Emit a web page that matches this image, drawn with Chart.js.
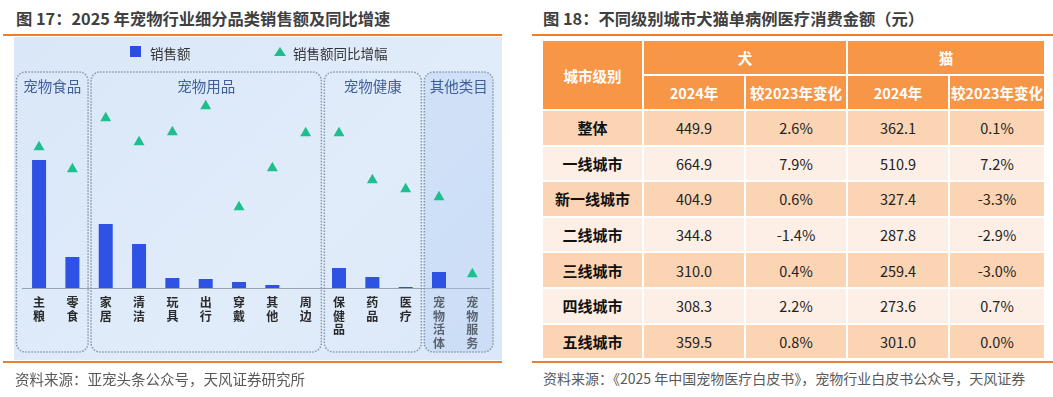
<!DOCTYPE html>
<html>
<head>
<meta charset="utf-8">
<script src="https://cdn.jsdelivr.net/npm/chart.js@4.4.1/dist/chart.umd.min.js"></script>
<style>
  html, body { margin: 0; padding: 0; background: #fff; }
  body { width: 1053px; height: 397px; position: relative; overflow: hidden;
         font-family: "Noto Sans CJK SC", "Noto Sans", sans-serif; }
  .title { position: absolute; top: 6px; font-size: 16.3px; font-weight: bold; color: #404040; white-space: nowrap; }
  .src { position: absolute; top: 368px; font-size: 14.5px; color: #595959; white-space: nowrap; }
  .rule { position: absolute; height: 2px; background: #ED7D31; }
  #plotBox { position: absolute; left: 14px; top: 37px; width: 488px; height: 323px;
             background: linear-gradient(135deg, #d9e7f8 0%, #e1ecfa 60%, #dbe8f9 100%); }
  #wrap { position: absolute; left: 14px; top: 37px; width: 488px; height: 325px; }
  .lg { position: absolute; top: 43px; font-size: 13.5px; color: #333; white-space: nowrap; }
  table { position: absolute; left: 541px; top: 39px; width: 503px; border-collapse: collapse; table-layout: fixed; }
  td { border: 2px solid #fff; text-align: center; padding: 0; font-size: 14.5px; color: #222; }
  .hd td { background: #F79646; color: #fff; font-weight: bold; height: 33px; }
  td.city { font-weight: bold; color: #111; font-size: 15px; }
  tr.odd td { background: #FBD4B4; }
  tr.even td { background: #FDEEE6; }
  tbody tr td { height: 33.6px; }
</style>
</head>
<body>
<div class="title" style="left:16px">图 17：2025 年宠物行业细分品类销售额及同比增速</div>
<div class="rule" style="left:3px; top:34px; width:499px"></div>
<div id="plotBox"></div>
<div id="wrap"><canvas id="c"></canvas></div>
<div style="position:absolute; left:130px; top:46px; width:11px; height:11px; background:#2b4de0"></div>
<div class="lg" style="left:150px">销售额</div>
<div style="position:absolute; left:274px; top:47px; width:0; height:0; border-left:6px solid transparent; border-right:6px solid transparent; border-bottom:9px solid #1dbf8f"></div>
<div class="lg" style="left:293px">销售额同比增幅</div>
<div class="rule" style="left:3px; top:361px; width:499px"></div>
<div class="src" style="left:15px">资料来源：亚宠头条公众号，天风证券研究所</div>

<div class="title" style="left:543px">图 18：不同级别城市犬猫单病例医疗消费金额（元）</div>
<div class="rule" style="left:532px; top:34px; width:521px"></div>
<table id="tbl"></table>
<div class="rule" style="left:532px; top:361px; width:521px"></div>
<div class="src" style="left:543px; font-size:14px">资料来源：《2025 年中国宠物医疗白皮书》，宠物行业白皮书公众号，天风证券</div>

<script>
// left chart data (no axis shown)
const categories = ["主粮","零食","家居","清洁","玩具","出行","穿戴","其他","周边","保健品","药品","医疗","宠物活体","宠物服务"];
const sales = [128, 31, 64, 44, 10, 9, 6, 3, 0, 20, 11, 1, 16, 0];
const growth = [18.2, 13.8, 24.0, 19.2, 21.2, 26.4, 6.2, 14.0, 21.0, 21.0, 11.6, 9.8, 8.2, -7.2];
const groupNames = ["宠物食品","宠物用品","宠物健康","其他类目"];
const groupFirst = [0, 2, 9, 12];
const groupLast = [1, 8, 11, 13];

// right table data
const cityLevels = ["整体","一线城市","新一线城市","二线城市","三线城市","四线城市","五线城市"];
const dog2024 = ["449.9","664.9","404.9","344.8","310.0","308.3","359.5"];
const dogChange = ["2.6%","7.9%","0.6%","-1.4%","0.4%","2.2%","0.8%"];
const cat2024 = ["362.1","510.9","327.4","287.8","259.4","273.6","301.0"];
const catChange = ["0.1%","7.2%","-3.3%","-2.9%","-3.0%","0.7%","0.0%"];

// build table
const tbl = document.getElementById('tbl');
let html = '<colgroup><col style="width:101px"><col style="width:102px"><col style="width:102px"><col style="width:102px"><col style="width:96px"></colgroup>';
html += '<tr class="hd"><td rowspan="2">城市级别</td><td colspan="2">犬</td><td colspan="2">猫</td></tr>';
html += '<tr class="hd"><td>2024年</td><td>较2023年变化</td><td>2024年</td><td>较2023年变化</td></tr>';
cityLevels.forEach((c, i) => {
  html += '<tr class="' + (i % 2 == 0 ? 'odd' : 'even') + '"><td class="city">' + c + '</td><td>' + dog2024[i] +
    '</td><td>' + dogChange[i] + '</td><td>' + cat2024[i] + '</td><td>' + catChange[i] + '</td></tr>';
});
tbl.innerHTML = html;

// dotted group boxes + titles behind the marks
const groupBoxes = {
  id: 'groupBoxes',
  beforeDatasetsDraw(chart) {
    const ctx = chart.ctx;
    const x = chart.scales.x;
    const half = (x.getPixelForValue(1) - x.getPixelForValue(0)) / 2;
    const top = 35, bottom = 315;
    groupNames.forEach((name, g) => {
      let l = x.getPixelForValue(groupFirst[g]) - half + 2;
      let r = x.getPixelForValue(groupLast[g]) + half - 1;
      if (g == 0) l -= 8;
      if (g == groupNames.length - 1) r += 5;
      ctx.save();
      ctx.beginPath();
      ctx.roundRect(l, top, r - l, bottom - top, 9);
      if (g == groupNames.length - 1) {
        ctx.fillStyle = 'rgba(176,204,240,0.35)';
        ctx.fill();
      }
      ctx.setLineDash([1.5, 1.5]);
      ctx.lineWidth = 1.5;
      ctx.strokeStyle = '#8796ab';
      ctx.stroke();
      ctx.setLineDash([]);
      ctx.fillStyle = '#3f5f98';
      ctx.font = '14.5px "Noto Sans CJK SC"';
      ctx.textAlign = 'center';
      ctx.textBaseline = 'middle';
      ctx.fillText(name, (l + r) / 2, 49);
      ctx.restore();
    });
  }
};

new Chart(document.getElementById('c'), {
  plugins: [groupBoxes],
  data: {
    labels: categories,
    datasets: [
      {
        type: 'line',
        label: '销售额同比增幅',
        data: growth,
        yAxisID: 'y2',
        showLine: false,
        pointStyle: 'triangle',
        pointRadius: 6.3,
        pointBackgroundColor: '#1dbf8f',
        pointBorderColor: '#1dbf8f',
        pointBorderWidth: 0,
        order: 1
      },
      {
        type: 'bar',
        label: '销售额',
        data: sales,
        yAxisID: 'y',
        backgroundColor: '#2d52e4',
        borderWidth: 0,
        barPercentage: 0.42,
        categoryPercentage: 1,
        order: 2
      }
    ]
  },
  options: {
    responsive: true,
    maintainAspectRatio: false,
    animation: false,
    layout: { padding: { left: 8.4, right: 13, top: 61, bottom: 0 } },
    plugins: { legend: { display: false }, tooltip: { enabled: false } },
    scales: {
      x: {
        grid: { display: false },
        border: { display: true, color: '#98a3b3', width: 1 },
        afterFit: (scale) => { scale.height = 74; },
        ticks: {
          maxRotation: 0,
          autoSkip: false,
          padding: 0,
          color: '#2a2a2a',
          font: { family: 'Noto Sans CJK SC', size: 12, weight: 'bold', lineHeight: 1.12 },
          callback: function (v) { return this.getLabelForValue(v).split(''); }
        }
      },
      y: { display: false, min: 0, max: 190 },
      y2: { display: false, min: -10, max: 28 }
    }
  }
});
</script>
</body>
</html>
